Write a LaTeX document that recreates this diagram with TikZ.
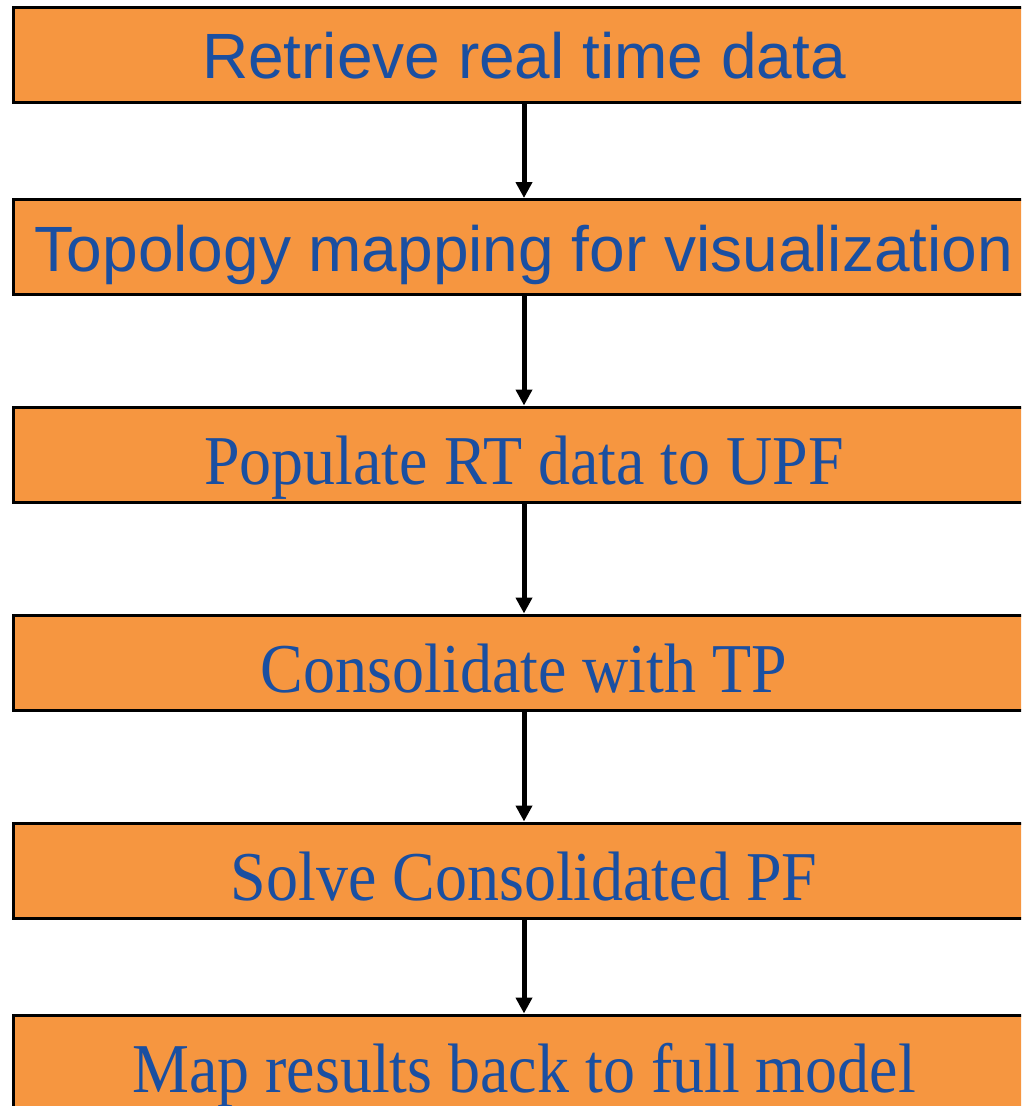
\documentclass[tikz,border=0pt]{standalone}
\usepackage{fontspec}
\usetikzlibrary{arrows.meta}
\newfontfamily\boxsans{Liberation Sans}
\newfontfamily\boxserif{Liberation Serif}
\definecolor{boxorange}{HTML}{F69640}
\definecolor{boxblue}{HTML}{1A4FA1}
\tikzset{
  stepbox/.style={draw=black, line width=3pt, fill=boxorange, rectangle,
    minimum width=1022pt, minimum height=95pt, inner sep=0pt,
    text=boxblue, text depth=0pt, anchor=center},
  sansbox/.style={stepbox, text height=47pt, font=\fontsize{64}{64}\selectfont\boxsans},
  serifbox/.style={stepbox, text height=60pt, font=\fontsize{70}{70}\selectfont\boxserif},
  flow/.style={line width=5pt, -{Triangle[width=16pt,length=16pt]}}
}
\newcommand{\sqz}[1]{\scalebox{0.914}[1]{#1}}
\begin{document}
\begin{tikzpicture}[x=1pt,y=-1pt]
\useasboundingbox (0,0) rectangle (1021,1106);
\clip (0,0) rectangle (1021,1106);
\node[sansbox] (b1) at (524,54.5) {Retrieve real time data};
\node[sansbox, text height=48pt] (b2) at (524,247) {Topology mapping for visualization};
\node[serifbox] (b3) at (524,454.5) {\sqz{Populate RT data to UPF}};
\node[serifbox] (b4) at (524,662.5) {\sqz{Consolidate with TP}};
\node[serifbox] (b5) at (524,870.5) {\sqz{Solve Consolidated PF}};
\node[serifbox] (b6) at (524,1062.5) {\sqz{Map results back to full model}};
\draw[flow] (b1.south) -- (b2.north);
\draw[flow] (b2.south) -- (b3.north);
\draw[flow] (b3.south) -- (b4.north);
\draw[flow] (b4.south) -- (b5.north);
\draw[flow] (b5.south) -- (b6.north);
\end{tikzpicture}
\end{document}
